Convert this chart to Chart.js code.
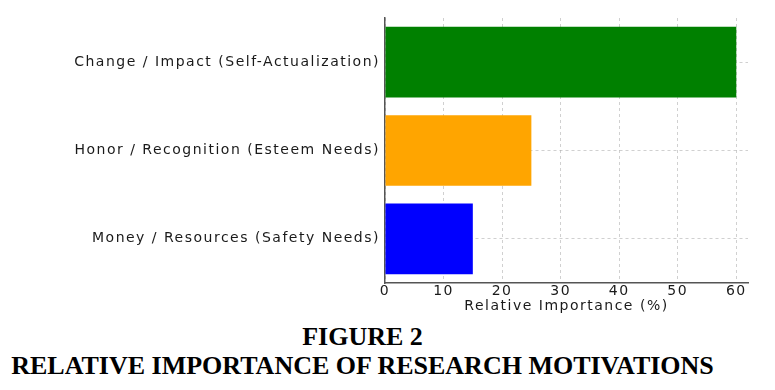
<!DOCTYPE html>
<html lang="en">
<head>
    <meta charset="UTF-8">
    <title>Relative Importance of Research Motivations</title>
    <script src="https://cdn.jsdelivr.net/npm/chart.js"></script>
    <style>
        body {
            margin: 0;
            width: 775px;
            height: 390px;
            background: #fff;
            overflow: hidden;
        }
        .chart-box {
            position: relative;
            width: 775px;
            height: 320px;
        }
        .caption {
            position: absolute;
            left: 0;
            width: 725px;
            font-family: "Liberation Serif", "Times New Roman", serif;
            font-weight: bold;
            font-size: 26px;
            color: #000;
            text-align: center;
            line-height: 29px;
            white-space: nowrap;
        }
        #fig-num { top: 322px; }
        #fig-title { top: 351px; }
    </style>
</head>
<body>
    <div class="chart-box">
        <canvas id="motivChart"></canvas>
    </div>
    <div id="fig-num" class="caption">FIGURE 2</div>
    <div id="fig-title" class="caption">RELATIVE IMPORTANCE OF RESEARCH MOTIVATIONS</div>

    <script>
        // data
        const categories = [
            'Change / Impact (Self-Actualization)',
            'Honor / Recognition (Esteem Needs)',
            'Money / Resources (Safety Needs)'
        ];
        const importance = [60, 25, 15];
        const barColors = ['#008000', '#FFA500', '#0000FF'];
        const xTicks = [0, 10, 20, 30, 40, 50, 60];

        const tickFont = { family: 'DejaVu Sans', size: 14 };
        const textColor = '#1a1a1a';
        const gridColor = 'rgba(170, 170, 170, 0.55)';

        // the original's text is a bit stretched sideways, fake it with letter spacing
        const wideText = {
            id: 'wideText',
            beforeLayout(chart) { chart.ctx.letterSpacing = '1.5px'; },
            beforeDraw(chart) { chart.ctx.letterSpacing = '1.5px'; }
        };

        const ctx = document.getElementById('motivChart').getContext('2d');
        new Chart(ctx, {
            type: 'bar',
            data: {
                labels: categories,
                datasets: [{
                    data: importance,
                    backgroundColor: barColors,
                    borderWidth: 0,
                    categoryPercentage: 0.8,
                    barPercentage: 1.0
                }]
            },
            options: {
                indexAxis: 'y',
                responsive: true,
                maintainAspectRatio: false,
                animation: false,
                layout: { padding: { top: 18, right: 27, left: 0, bottom: 0 } },
                plugins: {
                    legend: { display: false },
                    tooltip: { enabled: false }
                },
                scales: {
                    x: {
                        type: 'linear',
                        min: 0,
                        max: 62,
                        z: 1,
                        afterBuildTicks: (scale) => {
                            scale.ticks = xTicks.map(v => ({ value: v }));
                        },
                        afterFit: (scale) => { scale.height = 37; },
                        ticks: {
                            font: tickFont,
                            color: textColor,
                            padding: 0
                        },
                        grid: {
                            color: gridColor,
                            drawTicks: false,
                            tickLength: 0
                        },
                        border: {
                            display: true,
                            color: '#555',
                            width: 1.5,
                            dash: [3, 3]
                        },
                        title: {
                            display: true,
                            text: 'Relative Importance (%)',
                            font: tickFont,
                            color: textColor,
                            padding: { top: 0, bottom: 5 }
                        }
                    },
                    y: {
                        z: 1,
                        afterFit: (scale) => { scale.width = 385; },
                        ticks: {
                            font: tickFont,
                            color: textColor,
                            padding: 5
                        },
                        grid: {
                            offset: false,
                            color: gridColor,
                            drawTicks: false,
                            tickLength: 0
                        },
                        border: {
                            display: true,
                            color: '#555',
                            width: 1.5,
                            dash: [3, 3]
                        }
                    }
                }
            },
            plugins: [wideText]
        });
    </script>
</body>
</html>
